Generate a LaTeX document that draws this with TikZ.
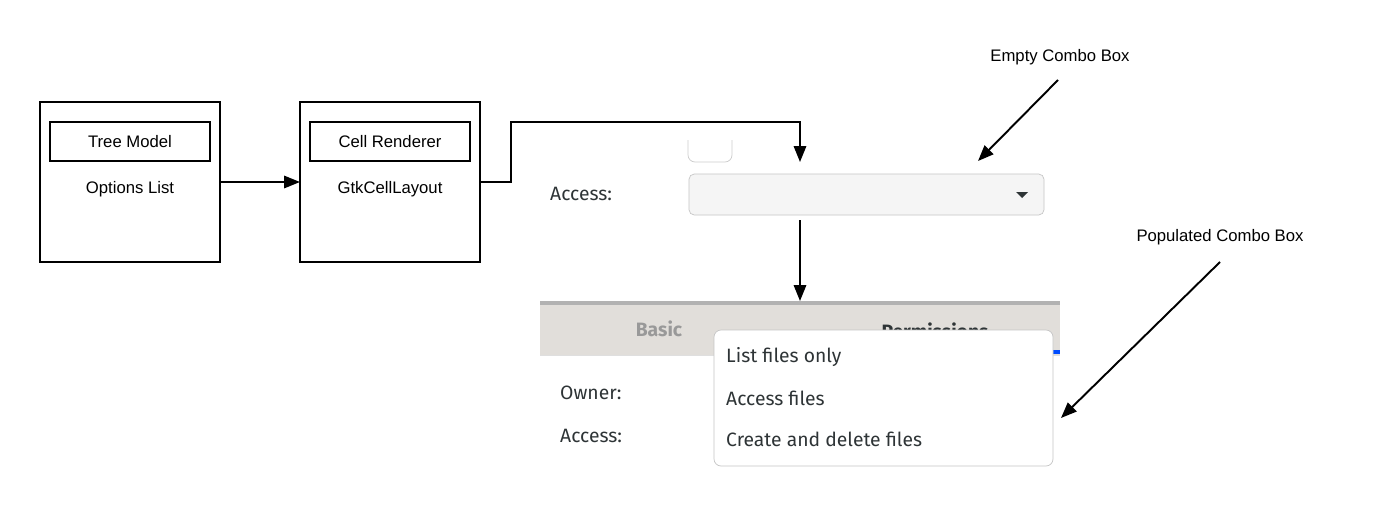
\documentclass[tikz,border=0pt]{standalone}
\usepackage{fontspec}
\setmainfont{Liberation Sans}
\newfontfamily\uifont{Fira Sans}
\usetikzlibrary{%
  arrows.meta,%
  calc,%
  positioning,%
}
\definecolor{tabgray}{HTML}{E1DEDA}
\definecolor{uitext}{HTML}{2E3436}
\tikzset{
  outerbox/.style={draw, line width=1.2pt},
  innerbox/.style={draw, line width=1.2pt, minimum width=160*0.02cm, minimum height=39*0.02cm, font=\fontsize{9.5}{11}\selectfont},
  lbl/.style={font=\fontsize{9.5}{11}\selectfont},
  uilbl/.style={font=\uifont\fontsize{11}{13}\selectfont, text=uitext},
  conn/.style={line width=1.1pt, -{Triangle[length=9pt,width=7pt]}},
}
\begin{document}
\begin{tikzpicture}[x=0.02cm, y=-0.02cm]

      \fill [white] (0, 0) rectangle (1380, 518);

      % model and renderer
      \draw [outerbox] (40, 102) rectangle (220, 262);
      \node [innerbox] (tree) at (130, 141.5) {Tree Model};
      \node [lbl] (opts) at (130, 189) {Options List};
      \coordinate (opts out) at (220, 182);

      \draw [outerbox] (300, 102) rectangle (480, 262);
      \node [innerbox] (cell) at (390, 141.5) {Cell Renderer};
      \node [lbl] (layout) at (390, 189) {GtkCellLayout};
      \coordinate (layout in) at (300, 182);
      \coordinate (layout out) at (480, 182);

      % empty combo box
      \draw [gray!40, rounded corners=4pt] (688, 140) -- (688, 162) -- (732, 162) -- (732, 140);
      \node [uilbl, anchor=west] (access1) at (544, 194) {Access:};
      \draw [gray!45, fill=gray!8, rounded corners=3pt] (689, 174) rectangle (1044, 215);
      \node (combo) at (866, 194) {};
      \fill [uitext] (1016, 192) -- (1028, 192) -- (1022, 198) -- cycle;
      \coordinate (combo top) at (800, 162);
      \coordinate (combo bot) at (800, 220);

      % populated combo box
      \fill [tabgray] (540, 302) rectangle (1060, 355);
      \draw [gray!60, line width=2pt] (540, 303) -- (1060, 303);
      \draw [gray!25] (540, 355) -- (1060, 355);
      \node [uilbl, text=gray!80, font=\uifont\bfseries\fontsize{11}{13}\selectfont] (basic) at (659, 329) {Basic};
      \node [uilbl, font=\uifont\bfseries\fontsize{11}{13}\selectfont] (perm) at (935, 331) {Permissions};
      \draw [blue!70!cyan, line width=2.5pt] (1045, 352) -- (1060, 352);
      \coordinate (tabs top) at (800, 301);
      \node [uilbl, anchor=west] (owner) at (554, 393) {Owner:};
      \node [uilbl, anchor=west] (access2) at (554, 436) {Access:};

      \draw [gray!45, fill=white, rounded corners=4pt] (714, 330) rectangle (1053, 466);
      \node [uilbl, anchor=west] (item1) at (720, 357) {List files only};
      \node [uilbl, anchor=west] (item2) at (720, 398) {Access files};
      \node [uilbl, anchor=west] (item3) at (720, 439) {Create and delete files};

      % callouts
      \node [lbl] (emptylbl) at (1060, 57) {Empty Combo Box};
      \coordinate (empty tip) at (978, 161);
      \node [lbl] (poplbl) at (1220, 237) {Populated Combo Box};
      \coordinate (pop tip) at (1061, 418);

      % connectors
      \draw [conn] (opts out) -- (layout in);
      \draw [conn] (layout out) -- (511, 182) -- (511, 122) -- (800, 122) -- (combo top);
      \draw [conn] (combo bot) -- (tabs top);
      \draw [conn] (1058, 80) -- (empty tip);
      \draw [conn] (1220, 262) -- (pop tip);
    \end{tikzpicture}
\end{document}
